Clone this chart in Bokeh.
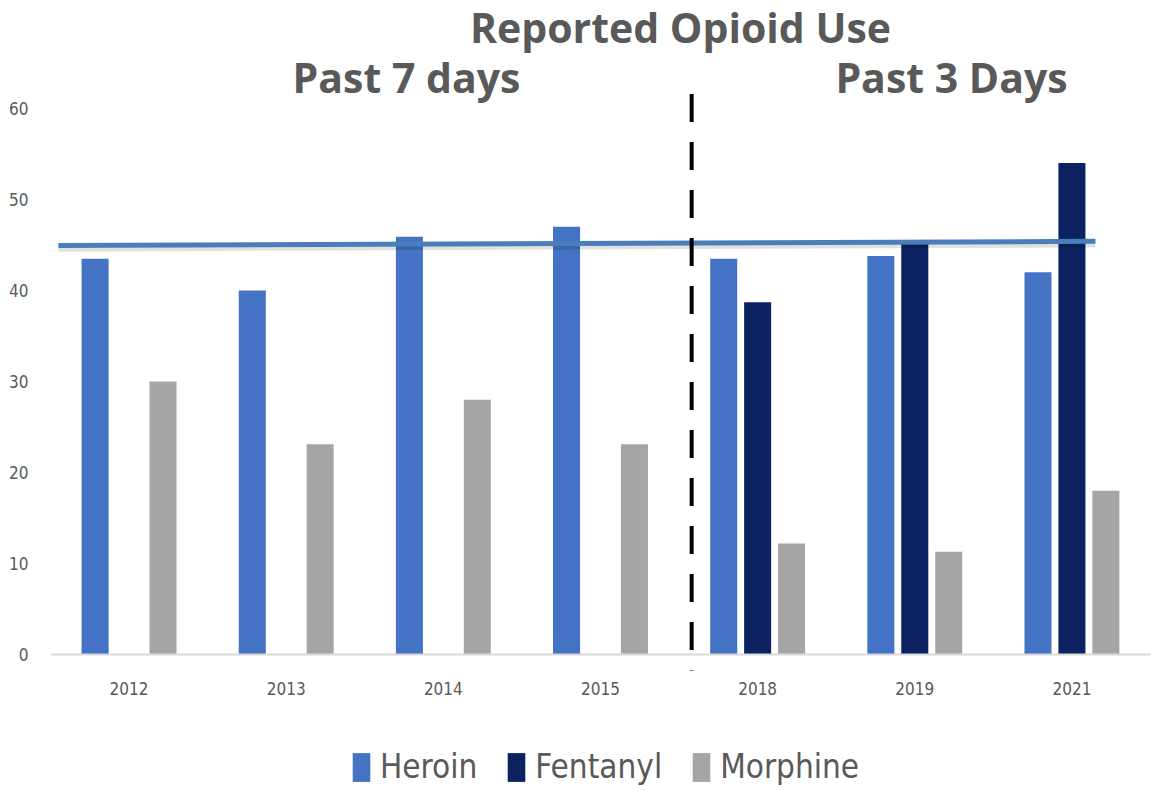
from bokeh.plotting import figure
from bokeh.models import (ColumnDataSource, FactorRange, Range1d, FixedTicker,
                          Label, Legend, LegendItem)
from bokeh.transform import dodge
from bokeh.embed import file_html
from bokeh.resources import INLINE

# Survey years and percentage reporting each opioid
years = ["2012", "2013", "2014", "2015", "2018", "2019", "2021"]
heroin = [43.5, 40.0, 45.9, 47.0, 43.5, 43.8, 42.0]
fentanyl = [0.0, 0.0, 0.0, 0.0, 38.7, 45.2, 54.0]
morphine = [30.0, 23.1, 28.0, 23.1, 12.2, 11.3, 18.0]
y_ticks = [0, 10, 20, 30, 40, 50, 60]

# Heroin reference level drawn across the whole period
ref_start, ref_end = 44.95, 45.4

HEROIN_C = "#4472C4"
FENT_C = "#0C2160"
MORPH_C = "#A5A5A5"
TEXT_C = "#595959"
NARROW = "DejaVu Sans Condensed"

src = ColumnDataSource(dict(year=years, heroin=heroin, fentanyl=fentanyl, morphine=morphine))

p = figure(width=1158, height=791,
           x_range=FactorRange(*years, range_padding=0),
           y_range=Range1d(-15.055, 71.868),
           output_backend="svg", toolbar_location=None,
           min_border_left=50, min_border_right=8,
           min_border_top=0, min_border_bottom=0)
p.outline_line_color = None
p.xgrid.visible = False
p.ygrid.visible = False
p.background_fill_color = "white"
p.border_fill_color = "white"

step = 0.216
bw = 0.172
r_her = p.vbar(x=dodge("year", -step, range=p.x_range), top="heroin", width=bw,
               source=src, fill_color=HEROIN_C, line_color=None)
r_fen = p.vbar(x=dodge("year", 0.0, range=p.x_range), top="fentanyl", width=bw,
               source=src, fill_color=FENT_C, line_color=None)
r_mor = p.vbar(x=dodge("year", step, range=p.x_range), top="morphine", width=bw,
               source=src, fill_color=MORPH_C, line_color=None)

# reference level line with a soft shadow underneath
p.segment(x0=[0.05], y0=[ref_start - 0.35], x1=[6.65], y1=[ref_end - 0.35],
          line_color="#000000", line_alpha=0.12, line_width=6)
p.segment(x0=[0.05], y0=[ref_start], x1=[6.65], y1=[ref_end],
          line_color="#4A7EBB", line_width=5)

# divider between the two recall periods
p.segment(x0=[4.08], y0=[61.6], x1=[4.08], y1=[-1.76],
          line_color="black", line_width=4, line_dash="28 20")

# axes
xa = p.xaxis[0]
xa.fixed_location = 0
xa.axis_line_color = "#D9D9D9"
xa.axis_line_width = 2
xa.major_tick_line_color = None
xa.minor_tick_line_color = None
xa.major_label_standoff = 22
xa.major_label_text_font = NARROW
xa.major_label_text_font_size = "17px"
xa.major_label_text_color = TEXT_C

ya = p.yaxis[0]
ya.ticker = FixedTicker(ticks=y_ticks)
ya.axis_line_color = None
ya.major_tick_line_color = None
ya.minor_tick_line_color = None
ya.major_label_standoff = 16
ya.major_label_text_font = NARROW
ya.major_label_text_font_size = "17px"
ya.major_label_text_color = TEXT_C

# headings
for txt, sx, y in [("Reported Opioid Use", 630, 69.0),
                   ("Past 7 days", 356, 63.5),
                   ("Past 3 Days", 901, 63.5)]:
    p.add_layout(Label(x=sx, y=y, x_units="screen", y_units="data", text=txt,
                       text_align="center", text_baseline="alphabetic",
                       text_font="Open Sans", text_font_style="bold",
                       text_font_size="41px", text_color=TEXT_C))

legend = Legend(items=[LegendItem(label="Heroin", renderers=[r_her]),
                       LegendItem(label="Fentanyl", renderers=[r_fen]),
                       LegendItem(label="Morphine", renderers=[r_mor])],
                orientation="horizontal", location=(300, 5),
                glyph_width=22, glyph_height=36, label_standoff=8, spacing=28,
                padding=0, margin=0, border_line_color=None,
                background_fill_alpha=0,
                label_text_font=NARROW, label_text_font_size="33px",
                label_text_color=TEXT_C)
p.add_layout(legend)

open("out.html", "w").write(file_html(p, INLINE))
